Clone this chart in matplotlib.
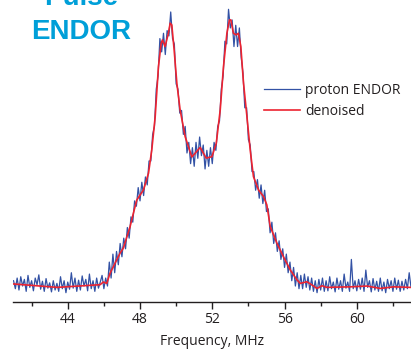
import numpy as np
import matplotlib
matplotlib.use('Agg')
import matplotlib.pyplot as plt

# espectro medido (passo de 0.1 MHz a partir de 41.0 MHz), intensidade normalizada
f_inicio = 41.0
f_passo = 0.1
proton_endor = [
    0.02, -0.01, 0.03, -0.015, 0.035, 0.0, 0.025, -0.02, 0.04, -0.005,
    0.02, -0.018, 0.03, 0.005, 0.042, -0.012, 0.018, -0.02, 0.028, -0.008,
    0.012, -0.022, 0.02, -0.015, 0.01, -0.02, 0.035, -0.01, 0.02, -0.025,
    0.015, -0.012, 0.05, -0.008, 0.03, -0.02, 0.022, -0.015, 0.038, 0.0,
    0.025, -0.018, 0.045, -0.01, 0.02, -0.02, 0.03, -0.008, 0.015, 0.04,
    -0.01, 0.03, 0.0, 0.09, 0.03, 0.12, 0.05, 0.13, 0.08, 0.16,
    0.11, 0.18, 0.14, 0.22, 0.18, 0.26, 0.24, 0.32, 0.30, 0.37,
    0.32, 0.39, 0.34, 0.41, 0.38, 0.47, 0.47, 0.57, 0.60, 0.74,
    0.79, 0.93, 0.88, 0.95, 0.87, 0.96, 0.94, 1.03, 0.93, 0.91,
    0.76, 0.74, 0.65, 0.66, 0.57, 0.60, 0.50, 0.54, 0.46, 0.52,
    0.45, 0.54, 0.48, 0.56, 0.49, 0.53, 0.44, 0.51, 0.45, 0.52,
    0.46, 0.54, 0.51, 0.60, 0.62, 0.74, 0.79, 0.92, 0.91, 1.04,
    0.97, 1.0, 0.90, 0.98, 0.90, 0.97, 0.86, 0.80, 0.67, 0.67,
    0.55, 0.53, 0.43, 0.43, 0.36, 0.40, 0.33, 0.38, 0.31, 0.36,
    0.28, 0.29, 0.20, 0.24, 0.16, 0.20, 0.13, 0.17, 0.10, 0.14,
    0.07, 0.12, 0.05, 0.09, 0.02, 0.07, 0.0, 0.05, -0.01, 0.04,
    -0.01, 0.045, -0.005, 0.035, -0.015, 0.03, -0.02, 0.02, -0.025, 0.025,
    -0.015, 0.03, -0.02, 0.02, -0.018, 0.035, -0.01, 0.015, -0.022, 0.03,
    -0.012, 0.02, -0.02, 0.045, -0.008, 0.015, -0.02, 0.1, -0.01, 0.02,
    -0.018, 0.025, -0.012, 0.03, -0.02, 0.06, -0.005, 0.02, -0.022, 0.028,
    -0.015, 0.018, -0.02, 0.03, -0.018, 0.015, -0.025, 0.025, -0.01, 0.02,
    -0.02, 0.03, -0.012, 0.022, -0.02, 0.018, -0.015, 0.025, -0.01, 0.05,
    -0.005,
]

# curva filtrada
freq_denoised = [
    40.97, 43.41, 45.79, 45.97, 46.16, 46.34, 46.90, 47.08, 47.45, 47.63,
    47.82, 48.19, 48.47, 48.65, 48.84, 49.02, 49.17, 49.24, 49.39, 49.57,
    49.67, 49.76, 49.89, 50.04, 50.22, 50.50, 50.87, 51.33, 51.66, 51.98,
    52.22, 52.44, 52.62, 52.81, 52.95, 53.03, 53.17, 53.32, 53.45, 53.58,
    53.73, 53.92, 54.10, 54.28, 54.56, 54.84, 55.02, 55.21, 55.58, 55.94,
    56.32, 56.69, 56.87, 57.24, 57.52, 57.80, 58.07, 58.35, 59.64, 60.57,
    61.30, 62.04, 62.96,
]
denoised = [
    0.008, -0.005, 0.005, 0.015, 0.010, 0.048, 0.124, 0.143, 0.223, 0.273,
    0.323, 0.361, 0.424, 0.511, 0.636, 0.824, 0.912, 0.925, 0.900, 0.950,
    0.988, 0.981, 0.887, 0.762, 0.662, 0.561, 0.485, 0.521, 0.481, 0.486,
    0.536, 0.662, 0.824, 0.950, 1.0, 1.0, 0.950, 0.944, 0.950, 0.900,
    0.762, 0.636, 0.511, 0.411, 0.361, 0.336, 0.305, 0.223, 0.161, 0.110,
    0.060, 0.023, 0.010, 0.016, 0.004, -0.009, 0.001, -0.005, -0.003, 0.0,
    -0.009, -0.003, -0.005,
]

freq = f_inicio + f_passo * np.arange(len(proton_endor))

fig = plt.figure(figsize=(4.11, 3.52), dpi=100)
ax = fig.add_axes([13 / 411, 50 / 352, 398 / 411, 302 / 352])

ax.plot(freq, proton_endor, color='#3352a5', linewidth=0.9, label='proton ENDOR')
ax.plot(freq_denoised, denoised, color='#ec2330', linewidth=1.2, label='denoised')

ax.set_xlim(40.97, 63.0)
ax.set_ylim(-0.060, 1.075)

for lado in ['left', 'top', 'right']:
    ax.spines[lado].set_visible(False)
ax.spines['bottom'].set_color('#231f20')
ax.spines['bottom'].set_linewidth(1.0)
ax.set_yticks([])
ax.set_xticks([44, 48, 52, 56, 60])
ax.set_xticks([42, 46, 50, 54, 58, 62], minor=True)
ax.tick_params(axis='x', which='major', length=5, width=1, color='#231f20',
               labelsize=10, labelcolor='#231f20', pad=2)
ax.tick_params(axis='x', which='minor', length=3, width=1, color='#231f20')
for lbl in ax.get_xticklabels():
    lbl.set_fontfamily('Open Sans')

ax.set_xlabel('Frequency, MHz', fontsize=10, family='Open Sans', color='#231f20', labelpad=5)

ax.legend(loc='upper left', bbox_to_anchor=(264 / 411, 1 - 83 / 352), bbox_transform=fig.transFigure,
          frameon=False, borderpad=0, borderaxespad=0, handlelength=2.6, handletextpad=0.35,
          labelspacing=0.4, prop={'family': 'Open Sans', 'size': 10}, labelcolor='#231f20')

fig.text(81 / 411, 1 - 5 / 352, 'Pulse', ha='center', va='baseline', fontsize=20,
         fontweight='bold', family='Liberation Sans', color='#009fd8')
fig.text(81 / 411, 1 - 39 / 352, 'ENDOR', ha='center', va='baseline', fontsize=20,
         fontweight='bold', family='Liberation Sans', color='#009fd8')

fig.savefig('out.png', dpi=100)
